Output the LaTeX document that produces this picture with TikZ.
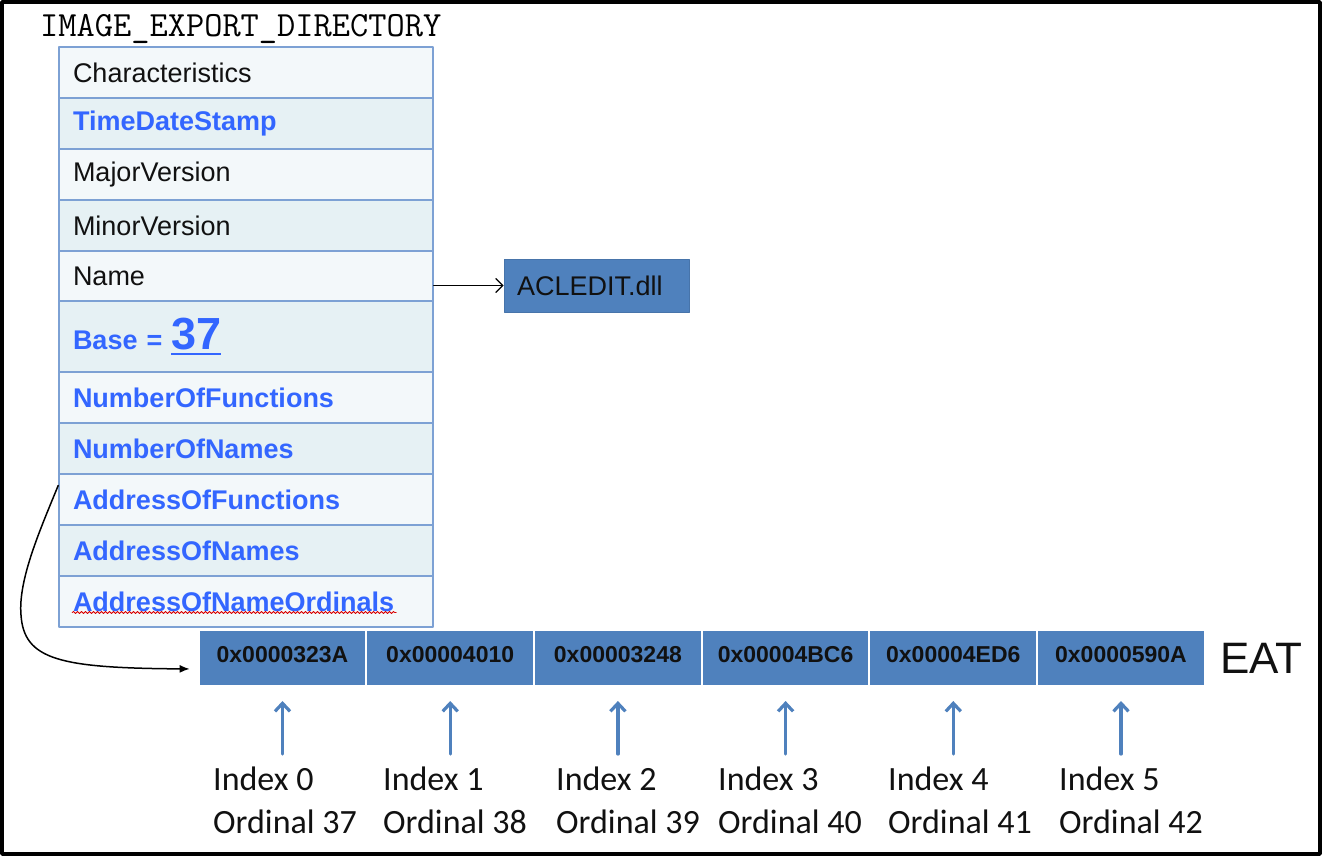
\documentclass[tikz,border=0pt]{standalone}
\usepackage{fontspec}
\setmainfont{Liberation Sans}
\newfontfamily\calibri{Carlito}
\usetikzlibrary{arrows.meta,calc,decorations.pathmorphing}
\definecolor{edLine}{HTML}{7DA1D4}
\definecolor{edLight}{HTML}{F3F8FA}
\definecolor{edDark}{HTML}{E6F1F4}
\definecolor{edBlue}{HTML}{3366FF}
\definecolor{edCell}{HTML}{4F81BD}
\definecolor{edInk}{HTML}{111111}
\begin{document}
\begin{tikzpicture}[x=1pt,y=-1pt,>=Latex,line cap=round,line join=round]
\useasboundingbox (0,0) rectangle (1324,857);
\path[fill=white] (0,0) rectangle (1324,857);
\draw[line width=3.5pt] (2,2) rectangle (1320,854);
\tikzset{row/.style={draw=edLine,line width=1.6pt,minimum width=374pt,text width=346pt,inner xsep=14pt,align=left,text=edInk,font=\fontsize{27}{30}\selectfont},lite/.style={row,fill=edLight,minimum height=51pt},dark/.style={row,fill=edDark,minimum height=51pt},field/.style={text=edBlue,font=\fontsize{27}{30}\selectfont\bfseries},cell/.style={fill=edCell,draw=white,line width=2pt,minimum width=167.7pt,minimum height=56pt,text depth=8pt,text=edInk,font=\fontsize{23}{23}\selectfont\bfseries},idx/.style={anchor=north west,inner sep=0pt,align=left,text=edInk,font=\calibri\fontsize{34}{43}\selectfont},uparrow/.style={draw=edCell,line width=3.2pt,-{Straight Barb[length=8pt,width=15pt]}}}
\node[anchor=base west,inner sep=0pt,font=\ttfamily\fontsize{35.4}{35.4}\selectfont] (title) at (40,36) {IMAGE\_EXPORT\_DIRECTORY};
% export directory fields
\node[lite] (r1) at (246,72.5) {Characteristics};
\node[dark,field] (r2) at (246,123.5) {TimeDateStamp};
\node[lite] (r3) at (246,174.5) {MajorVersion};
\node[dark] (r4) at (246,225.5) {MinorVersion};
\node[lite,minimum height=50pt] (r5) at (246,276) {Name};
\node[dark,field,minimum height=71pt] (r6) at (246,336.5) {Base = {\fontsize{45}{45}\selectfont 37}\llap{\rule[-6pt]{50pt}{1.8pt}}};
\node[lite,field] (r7) at (246,397.5) {NumberOfFunctions};
\node[dark,field] (r8) at (246,448.5) {NumberOfNames};
\node[lite,field] (r9) at (246,499.5) {AddressOfFunctions};
\node[dark,field] (r10) at (246,550.5) {AddressOfNames};
\node[lite,field] (r11) at (246,601.5) {AddressOfNameOrdinals};
\draw[draw=red!85!black,line width=0.8pt,decorate,decoration={snake,amplitude=1pt,segment length=4pt}] ([xshift=14pt,yshift=-11pt]r11.west) -- ++(324,0);
% dll name
\node[fill=edCell,draw=edCell!90!black,line width=0.8pt,minimum width=185pt,minimum height=53pt,text width=159pt,inner xsep=13pt,align=left,text=edInk,font=\fontsize{27}{30}\selectfont] (dll) at (596.5,285.5) {ACLEDIT.dll};
\draw[line width=1.3pt,-{Straight Barb[length=7pt,width=14pt]}] (r5.east |- dll.west) -- (dll.west);
% export address table
\node[cell] (e0) at (282.5,658) {0x0000323A};
\node[cell] (e1) at (450.2,658) {0x00004010};
\node[cell] (e2) at (617.9,658) {0x00003248};
\node[cell] (e3) at (785.6,658) {0x00004BC6};
\node[cell] (e4) at (953.3,658) {0x00004ED6};
\node[cell] (e5) at (1121,658) {0x0000590A};
\node[anchor=west,inner sep=0pt,text=edInk,font=\fontsize{44}{44}\selectfont] (eat) at (1220,658) {EAT};
\draw[line width=1.5pt,-{Latex[length=10pt,width=8pt]},shorten >=8pt] ([yshift=14pt]r9.west) .. controls (40,530) and (18,580) .. (21,615) .. controls (24,660) and (60,668) .. ([yshift=-11pt]e0.west);
% indices and ordinals
\node[idx] (i0) at (213,767) {Index 0\\Ordinal 37};
\node[idx] (i1) at (383,767) {Index 1\\Ordinal 38};
\node[idx] (i2) at (556,767) {Index 2\\Ordinal 39};
\node[idx] (i3) at (718,767) {Index 3\\Ordinal 40};
\node[idx] (i4) at (888,767) {Index 4\\Ordinal 41};
\node[idx] (i5) at (1059,767) {Index 5\\Ordinal 42};
\draw[uparrow,shorten <=13pt,shorten >=14pt] (e0.south |- i0.north) -- (e0.south);
\draw[uparrow,shorten <=13pt,shorten >=14pt] (e1.south |- i1.north) -- (e1.south);
\draw[uparrow,shorten <=13pt,shorten >=14pt] (e2.south |- i2.north) -- (e2.south);
\draw[uparrow,shorten <=13pt,shorten >=14pt] (e3.south |- i3.north) -- (e3.south);
\draw[uparrow,shorten <=13pt,shorten >=14pt] (e4.south |- i4.north) -- (e4.south);
\draw[uparrow,shorten <=13pt,shorten >=14pt] (e5.south |- i5.north) -- (e5.south);
\end{tikzpicture}
\end{document}
